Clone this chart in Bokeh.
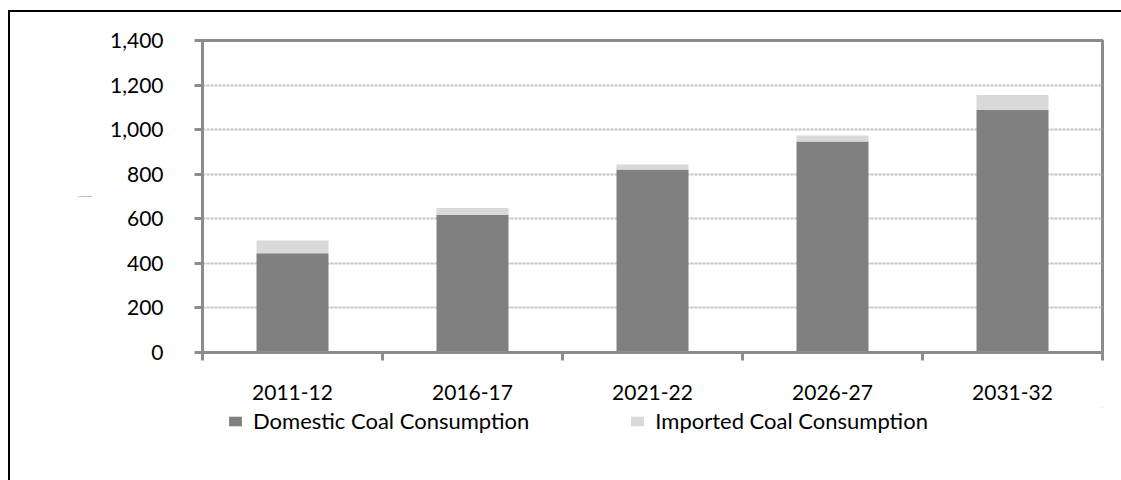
from bokeh.plotting import figure
from bokeh.layouts import column
from bokeh.models import ColumnDataSource, FixedTicker, NumeralTickFormatter, Legend, Range1d
from bokeh.embed import file_html
from bokeh.resources import INLINE

# Coal consumption, million tonnes
periods = ["2011-12", "2016-17", "2021-22", "2026-27", "2031-32"]
domestic = [445, 618, 821, 947, 1089]
imported = [58, 30, 23, 27, 67]
series_names = ["Domestic Coal Consumption", "Imported Coal Consumption"]
series_colors = ["#808080", "#d9d9d9"]
y_ticks = [0, 200, 400, 600, 800, 1000, 1200, 1400]

FONT = "Lato"
AXIS_GREY = "#8c8c8c"

xs = [i + 0.5 for i in range(len(periods))]
source = ColumnDataSource(dict(x=xs, domestic=domestic, imported=imported))

p = figure(frame_width=900, frame_height=312, output_backend="svg", toolbar_location=None,
           x_range=Range1d(0, len(periods)), y_range=Range1d(0, 1400),
           min_border_left=192, min_border_right=19, min_border_top=28, min_border_bottom=55)

p.vbar_stack(["domestic", "imported"], x="x", width=0.4, color=series_colors,
             line_color=None, source=source)

# frame and axes
p.outline_line_color = AXIS_GREY
p.outline_line_width = 3
p.background_fill_color = "white"
p.border_fill_color = "white"

p.xgrid.visible = False
p.ygrid.grid_line_color = "#c4c4c4"
p.ygrid.grid_line_width = 2
p.ygrid.grid_line_dash = "3 1"

ya = p.yaxis[0]
ya.ticker = FixedTicker(ticks=y_ticks)
ya.formatter = NumeralTickFormatter(format="0,0")
ya.axis_line_color = AXIS_GREY
ya.axis_line_width = 3
ya.major_tick_line_color = AXIS_GREY
ya.major_tick_line_width = 3
ya.major_tick_out = 8
ya.major_tick_in = 0
ya.minor_tick_line_color = None
ya.major_label_standoff = 31
ya.major_label_text_font = FONT
ya.major_label_text_font_size = "21px"
ya.major_label_text_color = "black"
# axis title, printed very small beside the tick labels
ya.axis_label = "Million Tonnes"
ya.axis_label_orientation = "horizontal"
ya.axis_label_standoff = 15
ya.axis_label_text_font = FONT
ya.axis_label_text_font_size = "2.2px"
ya.axis_label_text_font_style = "normal"
ya.axis_label_text_color = "#555555"

xa = p.xaxis[0]
xa.ticker = FixedTicker(ticks=xs, minor_ticks=list(range(len(periods) + 1)))
xa.major_label_overrides = {x: lab for x, lab in zip(xs, periods)}
xa.axis_line_color = AXIS_GREY
xa.axis_line_width = 3
xa.major_tick_line_color = None
xa.major_tick_out = 0
xa.major_tick_in = 0
xa.minor_tick_line_color = AXIS_GREY
xa.minor_tick_line_width = 3
xa.minor_tick_out = 8
xa.minor_tick_in = 0
xa.major_label_standoff = 24
xa.major_label_text_font = FONT
xa.major_label_text_font_size = "21px"
xa.major_label_text_color = "black"

# legend strip under the chart; its key renderers share the chart's source
# but sit outside this strip's visible range, so only the legend shows
lf = figure(width=1111, height=73, output_backend="svg", toolbar_location=None,
            x_range=Range1d(-20, -19), y_range=Range1d(-20, -19),
            x_axis_type=None, y_axis_type=None,
            min_border_left=0, min_border_right=0, min_border_top=0, min_border_bottom=0)
lf.outline_line_color = None
lf.grid.visible = False
keys = lf.vbar_stack(["domestic", "imported"], x="x", width=0.4, color=series_colors,
                     line_color=None, source=source)
legend = Legend(items=[(name, [r]) for name, r in zip(series_names, keys)],
                orientation="horizontal", location=(25, 46),
                glyph_width=16, glyph_height=12, label_standoff=10, spacing=100,
                padding=0, margin=0, border_line_color=None, background_fill_alpha=0,
                label_text_font=FONT, label_text_font_size="22px", label_text_color="black")
lf.add_layout(legend, "center")

page = column(p, lf, spacing=0,
              styles={"margin-left": "8px", "margin-top": "10px",
                      "border-left": "2px solid #000", "border-top": "2px solid #000"})

open("out.html", "w").write(file_html(page, INLINE))
